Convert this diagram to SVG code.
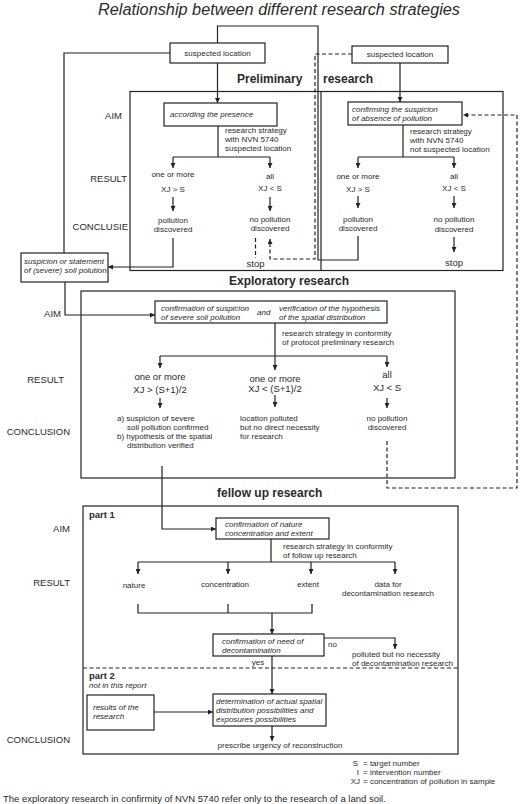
<svg xmlns="http://www.w3.org/2000/svg" width="520" height="804" viewBox="0 0 520 804">
<defs>
<marker id="a" viewBox="0 0 6 6" refX="6" refY="3" markerWidth="5" markerHeight="5" markerUnits="userSpaceOnUse" orient="auto"><path d="M0,0 L6,3 L0,6 z" fill="#222"/></marker>
<style>
text{font-family:"Liberation Sans",Arial,sans-serif;fill:#2a2a2a}
.s{font-size:8px}
.i{font-size:8px;font-style:italic}
.m{font-size:9.5px}
.l{font-size:9.5px}
.b{font-size:12px;font-weight:bold}
.p{font-size:9.5px;font-weight:bold}
.c{text-anchor:middle}
.box{fill:none;stroke:#222;stroke-width:1.2}
.ln{fill:none;stroke:#222;stroke-width:1.2}
.ar{fill:none;stroke:#222;stroke-width:1.2;marker-end:url(#a)}
.d{fill:none;stroke:#222;stroke-width:1.2;stroke-dasharray:4 2.5}
</style>
</defs>
<rect width="520" height="804" fill="#fff"/>
<text x="279" y="15" class="c" style="font-size:16.3px;font-style:italic">Relationship between different research strategies</text>

<g id="preliminary-frame">
<rect x="130" y="91.5" width="373" height="179" class="box"/>
<line x1="321" y1="91.5" x2="321" y2="270.5" class="ln"/>
<text x="237" y="83" class="b">Preliminary</text>
<text x="323" y="83" class="b">research</text>
<text x="122" y="119" class="l" text-anchor="end">AIM</text>
<text x="127" y="182" class="l" text-anchor="end">RESULT</text>
<text x="128" y="230" class="l" text-anchor="end">CONCLUSIE</text>
</g>

<g id="suspected-left">
<rect x="170" y="43" width="95" height="20" class="box"/>
<text x="217.5" y="56" class="s c">suspected location</text>
</g>
<g id="aim-presence">
<rect x="164" y="103" width="113" height="23" class="box"/>
<text x="170" y="117" class="i">according the presence</text>
<text x="225" y="133" class="s">research strategy</text>
<text x="225" y="142" class="s">with NVN 5740</text>
<text x="225" y="151" class="s">suspected location</text>
</g>
<g id="pl-left-results">
<text x="173" y="177" class="s c">one or more</text>
<text x="173" y="192" class="s c">XJ &gt; S</text>
<text x="173" y="223" class="s c">pollution</text>
<text x="173" y="232" class="s c">discovered</text>
<text x="270" y="179" class="s c">all</text>
<text x="270" y="191" class="s c">XJ &lt; S</text>
<text x="270" y="222" class="s c">no pollution</text>
<text x="270" y="231" class="s c">discovered</text>
<text x="255.5" y="267" class="m c">stop</text>
</g>

<g id="suspected-right">
<rect x="352" y="46" width="96" height="17" class="box"/>
<text x="400" y="57" class="s c">suspected location</text>
</g>
<g id="aim-absence">
<rect x="348" y="102" width="114" height="23" class="box"/>
<text x="352" y="112" class="i">confirming the suspicion</text>
<text x="352" y="121" class="i">of absence of pollution</text>
<text x="410" y="134" class="s">research strategy</text>
<text x="410" y="143" class="s">with NVN 5740</text>
<text x="410" y="152" class="s">not suspected location</text>
</g>
<g id="pl-right-results">
<text x="358" y="179" class="s c">one or more</text>
<text x="358" y="192" class="s c">XJ &gt; S</text>
<text x="358" y="222" class="s c">pollution</text>
<text x="358" y="231" class="s c">discovered</text>
<text x="454" y="179" class="s c">all</text>
<text x="454" y="191" class="s c">XJ &lt; S</text>
<text x="454" y="222" class="s c">no pollution</text>
<text x="454" y="232" class="s c">discovered</text>
<text x="454" y="266" class="m c">stop</text>
</g>

<g id="suspicion">
<rect x="21" y="253" width="87" height="29" class="box"/>
<text x="24" y="264" class="i">suspicion or statement</text>
<text x="24" y="273" class="i">of (severe) soil polution</text>
</g>

<g id="exploratory-frame">
<rect x="81" y="291" width="374" height="187" class="box"/>
<text x="229" y="285" class="b">Exploratory research</text>
<text x="61" y="317" class="l" text-anchor="end">AIM</text>
<text x="64" y="383" class="l" text-anchor="end">RESULT</text>
<text x="70" y="435" class="l" text-anchor="end">CONCLUSION</text>
</g>
<g id="aim-exploratory">
<rect x="155" y="301" width="232" height="22" class="box"/>
<text x="161" y="311" class="i">confirmation of suspicion</text>
<text x="161" y="320" class="i">of severe soil pollution</text>
<text x="257" y="315" class="i">and</text>
<text x="279" y="311" class="i">verification of the hypothesis</text>
<text x="279" y="320" class="i">of the spatial distribution</text>
<text x="282" y="336" class="s">research strategy in conformity</text>
<text x="282" y="345" class="s">of protocol preliminary research</text>
</g>
<g id="ex-results">
<text x="160" y="380" class="m c">one or more</text>
<text x="160" y="393" class="m c">XJ &gt; (S+1)/2</text>
<text x="117" y="421" class="s">a) suspicion of severe</text>
<text x="127" y="430" class="s">soil pollution confirmed</text>
<text x="117" y="439" class="s">b) hypothesis of the spatial</text>
<text x="127" y="448" class="s">distribution verified</text>
<text x="275" y="382" class="m c">one or more</text>
<text x="275" y="392" class="m c">XJ &lt; (S+1)/2</text>
<text x="240" y="421" class="s">location polluted</text>
<text x="240" y="430" class="s">but no direct necessity</text>
<text x="240" y="439" class="s">for research</text>
<text x="387" y="378" class="m c">all</text>
<text x="387" y="391" class="m c">XJ &lt; S</text>
<text x="387" y="421" class="s c">no pollution</text>
<text x="387" y="430" class="s c">discovered</text>
</g>

<g id="followup-frame">
<rect x="83" y="506" width="375" height="248" class="box"/>
<text x="217" y="497" class="b">fellow up research</text>
<text x="89" y="518" class="p">part 1</text>
<text x="70" y="532" class="l" text-anchor="end">AIM</text>
<text x="70" y="586" class="l" text-anchor="end">RESULT</text>
<text x="70" y="743" class="l" text-anchor="end">CONCLUSION</text>
<line x1="83" y1="668" x2="458" y2="668" class="d"/>
<text x="89" y="679" class="p">part 2</text>
<text x="89" y="688" class="i">not in this report</text>
</g>
<g id="aim-followup">
<rect x="216" y="518" width="113" height="21" class="box"/>
<text x="225" y="527" class="i">confirmation of nature</text>
<text x="225" y="536" class="i">concentration and extent</text>
<text x="283" y="549" class="s">research strategy in conformity</text>
<text x="283" y="558" class="s">of follow up research</text>
</g>
<g id="fu-results">
<text x="134" y="588" class="s c">nature</text>
<text x="225" y="587" class="s c">concentration</text>
<text x="308" y="587" class="s c">extent</text>
<text x="388" y="587" class="s c">data for</text>
<text x="388" y="596" class="s c">decontamination research</text>
</g>
<g id="need-decontamination">
<rect x="213" y="634" width="111" height="22" class="box"/>
<text x="222" y="644" class="i">confirmation of need of</text>
<text x="222" y="653" class="i">decontamination</text>
<text x="328" y="647" class="s">no</text>
<text x="258" y="665" class="s c">yes</text>
<text x="352" y="657" class="s">polluted but no necessity</text>
<text x="352" y="666" class="s">of decontamination research</text>
</g>
<g id="results-research">
<rect x="87" y="695" width="67" height="35" class="box"/>
<text x="93" y="710" class="i">results of the</text>
<text x="93" y="719" class="i">research</text>
</g>
<g id="determination">
<rect x="213" y="694" width="113" height="32" class="box"/>
<text x="216" y="704" class="i">determination of actual spatial</text>
<text x="216" y="713" class="i">distribution possibilities and</text>
<text x="216" y="722" class="i">exposures possibilities</text>
<text x="280" y="748" class="s c">prescribe urgency of reconstruction</text>
</g>

<g id="legend">
<text x="358" y="766" class="s" text-anchor="end">S</text>
<text x="359" y="775" class="s" text-anchor="end">I</text>
<text x="360" y="784" class="s" text-anchor="end">XJ</text>
<text x="363" y="766" class="s">= target number</text>
<text x="363" y="775" class="s">= intervention number</text>
<text x="363" y="784" class="s">= concentration of pollution in sample</text>
<text x="3" y="802" style="font-size:9.5px">The exploratory research in confirmity of NVN 5740 refer only to the research of a land soil.</text>
</g>

<g id="connectors">
<path d="M217.5,43 V26 H318 V260 H358 V236" class="ln"/>
<path d="M170,53 H64 V253" class="ln"/>
<path d="M217.5,63 V103" class="ar"/>
<path d="M218,126 V157" class="ln"/>
<path d="M173,157 H270" class="ln"/>
<path d="M173,157 V168" class="ar"/>
<path d="M270,157 V168" class="ar"/>
<path d="M173,197 V211" class="ar"/>
<path d="M270,197 V211" class="ar"/>
<path d="M173,238 V267 H108" class="ar"/>
<path d="M255.5,238 V258" class="d"/>
<path d="M352,54 H315 V259 H270 V239" class="d" marker-end="url(#a)"/>
<path d="M400,63 V102" class="ar"/>
<path d="M403,125 V157" class="ln"/>
<path d="M358,157 H454" class="ln"/>
<path d="M358,157 V168" class="ar"/>
<path d="M454,157 V168" class="ar"/>
<path d="M358,196 V208" class="ar"/>
<path d="M454,196 V208" class="ar"/>
<path d="M454,237 V252" class="ar"/>
<path d="M65,282 V315 H155" class="ar"/>
<path d="M275,323 V370" class="ar"/>
<path d="M160,356 H387" class="ln"/>
<path d="M160,356 V368" class="ar"/>
<path d="M387,356 V367" class="ar"/>
<path d="M160,398 V408" class="ar"/>
<path d="M275,395 V407" class="ar"/>
<path d="M387,398 V408" class="ar"/>
<path d="M387,441 V488 H517 V115 H463" class="d" marker-end="url(#a)"/>
<path d="M162,466 V529 H216" class="ar"/>
<path d="M271,539 V562" class="ln"/>
<path d="M138,562 H395" class="ln"/>
<path d="M138,562 V574" class="ar"/>
<path d="M228,562 V574" class="ar"/>
<path d="M311,562 V574" class="ar"/>
<path d="M395,562 V574" class="ar"/>
<path d="M138,604 V613 H312 V604 M228,604 V613" class="ln"/>
<path d="M272,613 V634" class="ar"/>
<path d="M324,638 H395 V649" class="ar"/>
<path d="M272,656 V694" class="ar"/>
<path d="M154,712 H213" class="ar"/>
<path d="M272,726 V741" class="ar"/>
</g>
</svg>
